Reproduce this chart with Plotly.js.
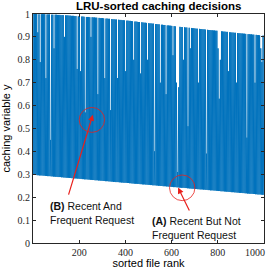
<!DOCTYPE html>
<html>
<head>
<meta charset="utf-8">
<script src="https://cdn.plot.ly/plotly-3.0.1.min.js"></script>
<style>
  html, body { margin: 0; padding: 0; background: #fff; }
  #chart { width: 269px; height: 269px; }
</style>
</head>
<body>
<div id="chart"></div>
<script>
// Caching variable y of sampled files (every 5th rank): upper samples
const hiY = [
  1.000,1.000,1.000,1.000,0.920,0.999,0.790,0.999,0.999,0.999,
  0.999,0.720,0.998,0.998,0.998,0.450,0.997,0.997,0.850,0.997,
  0.997,0.996,0.996,0.996,0.995,0.995,0.995,0.900,0.994,0.994,
  0.994,0.993,0.993,0.992,0.992,0.992,0.991,0.991,0.760,0.990,
  0.990,0.750,0.989,0.989,0.988,0.570,0.987,0.987,0.987,0.986,
  0.900,0.986,0.985,0.985,0.984,0.984,0.650,0.983,0.982,0.982,
  0.982,0.981,0.720,0.980,0.980,0.979,0.979,0.580,0.978,0.977,
  0.977,0.976,0.976,0.720,0.975,0.974,0.974,0.973,0.973,0.972,
  0.750,0.971,0.971,0.970,0.970,0.969,0.968,0.800,0.967,0.967,
  0.966,0.965,0.965,0.740,0.964,0.963,0.962,0.962,0.961,0.800,
  0.960,0.959,0.959,0.958,0.958,0.400,0.956,0.956,0.955,0.955,
  0.700,0.953,0.953,0.952,0.952,0.650,0.950,0.950,0.949,0.949,
  0.948,0.820,0.947,0.946,0.700,0.310,0.680,0.944,0.943,0.943,
  0.800,0.942,0.941,0.941,0.510,0.940,0.850,0.939,0.938,0.938,
  0.937,0.936,0.936,0.700,0.935,0.934,0.934,0.933,0.933,0.932,
  0.390,0.931,0.930,0.930,0.929,0.929,0.928,0.928,0.927,0.927,
  0.850,0.630,0.800,0.924,0.924,0.923,0.923,0.922,0.922,0.750,
  0.920,0.920,0.919,0.919,0.918,0.918,0.700,0.917,0.916,0.916,
  0.915,0.915,0.914,0.914,0.913,0.460,0.912,0.912,0.911,0.911,
  0.910,0.910,0.700,0.909,0.908,0.908,0.907,0.850,0.790,0.906
];
// lower samples (files in between)
const loY = [
  0.298,0.297,0.297,0.296,0.296,0.295,0.295,0.295,0.294,0.294,
  0.293,0.293,0.292,0.292,0.292,0.291,0.291,0.290,0.290,0.289,
  0.289,0.288,0.288,0.288,0.287,0.287,0.286,0.286,0.285,0.285,
  0.285,0.284,0.284,0.283,0.283,0.282,0.282,0.282,0.281,0.281,
  0.280,0.280,0.279,0.279,0.278,0.278,0.278,0.277,0.277,0.276,
  0.276,0.275,0.275,0.274,0.274,0.274,0.273,0.273,0.272,0.272,
  0.271,0.271,0.270,0.270,0.270,0.269,0.269,0.268,0.268,0.267,
  0.267,0.266,0.266,0.266,0.265,0.265,0.264,0.264,0.263,0.263,
  0.263,0.262,0.262,0.261,0.261,0.260,0.260,0.259,0.259,0.259,
  0.258,0.258,0.257,0.257,0.256,0.256,0.256,0.255,0.255,0.254,
  0.254,0.253,0.253,0.252,0.252,0.252,0.251,0.251,0.250,0.250,
  0.249,0.249,0.248,0.248,0.248,0.247,0.247,0.246,0.246,0.245,
  0.245,0.244,0.244,0.244,0.243,0.243,0.242,0.242,0.241,0.241,
  0.241,0.240,0.240,0.239,0.239,0.238,0.238,0.237,0.237,0.237,
  0.236,0.236,0.235,0.235,0.234,0.234,0.234,0.233,0.233,0.232,
  0.232,0.231,0.231,0.230,0.230,0.230,0.229,0.229,0.228,0.228,
  0.227,0.227,0.226,0.226,0.226,0.225,0.225,0.224,0.224,0.223,
  0.223,0.222,0.222,0.222,0.221,0.221,0.220,0.220,0.219,0.219,
  0.219,0.218,0.218,0.217,0.217,0.216,0.216,0.215,0.215,0.215,
  0.214,0.214,0.213,0.213,0.212,0.212,0.212,0.211,0.211,0.210
];
const rankStep = 5;           // sampled every 5th file rank
const xTickVals = [200, 400, 600, 800, 1000];
const xTickText = ['200', '400', '600', '800', '1000'];
const yTickVals = [0, 0.1, 0.2, 0.3, 0.4, 0.5, 0.6, 0.7, 0.8, 0.9, 1];

// annotation anchors (data units)
const noteB = {text: '<b>(B)</b> Recent And<br>Frequent Request', x: 65, y: 0.195,
  head: [259, 0.56], tail: [152, 0.205], circle: [200, 0.483, 310, 0.592]};
const noteA = {text: '<b>(A)</b> Recent But Not<br>Frequent Request', x: 508, y: 0.13,
  head: [628, 0.242], tail: [680, 0.135], circle: [591, 0.185, 701, 0.297]};

const xs = [], ys = [];
hiY.forEach((h, i) => {
  const r = 1 + rankStep * i;
  xs.push(r); ys.push(h);
  xs.push(r + rankStep / 2); ys.push(loY[i]);
});

const red = '#e8201c';
const axisColor = '#262626';
const serif = 'Liberation Serif, Times New Roman, serif';
const sans = 'Liberation Sans, Arial, sans-serif';

const data = [{
  type: 'scatter', mode: 'lines', x: xs, y: ys,
  line: {color: '#0072BD', width: 1}, hoverinfo: 'skip'
}];

function arrow(n) {
  return {xref: 'x', yref: 'y', axref: 'x', ayref: 'y', x: n.head[0], y: n.head[1],
    ax: n.tail[0], ay: n.tail[1], text: '', showarrow: true, arrowhead: 2,
    arrowsize: 1, arrowwidth: 1.2, arrowcolor: red, standoff: 0};
}
function label(n) {
  return {xref: 'x', yref: 'y', x: n.x, y: n.y, xanchor: 'left', yanchor: 'top',
    text: n.text, showarrow: false, align: 'left',
    font: {family: sans, size: 10.5, color: '#111'}};
}
function ring(n) {
  return {type: 'circle', xref: 'x', yref: 'y', x0: n.circle[0], y0: n.circle[1],
    x1: n.circle[2], y1: n.circle[3], line: {color: red, width: 0.8}};
}
// last x tick label, kept inside the picture like the reference
const lastTick = {xref: 'x', yref: 'paper', x: xTickVals[4], y: 0, xanchor: 'right', yanchor: 'top',
  xshift: 3, yshift: -2, text: xTickText[4], showarrow: false,
  font: {family: serif, size: 10, color: axisColor}};

const layout = {
  width: 269, height: 269,
  margin: {l: 33, r: 5, t: 14, b: 26},
  paper_bgcolor: '#fff', plot_bgcolor: '#fff',
  showlegend: false,
  title: {text: '<b>LRU-sorted caching decisions</b>', x: 0.59, xref: 'container', xanchor: 'center',
    y: 0.978, yref: 'container', yanchor: 'middle',
    font: {family: sans, size: 11.5, color: '#000'}},
  xaxis: {range: [0, 1000], tickvals: xTickVals, ticktext: xTickText.slice(0, 4).concat(['']),
    ticks: 'inside', ticklen: 3,
    tickcolor: axisColor, showline: true, linecolor: axisColor, linewidth: 1, mirror: 'ticks',
    showgrid: false, zeroline: false,
    tickfont: {family: serif, size: 10, color: axisColor},
    title: {text: 'sorted file rank', font: {family: sans, size: 11, color: '#000'}, standoff: 2}},
  yaxis: {range: [0, 1], tickvals: yTickVals, ticks: 'inside', ticklen: 3,
    tickcolor: axisColor, showline: true, linecolor: axisColor, linewidth: 1, mirror: 'ticks',
    showgrid: false, zeroline: false,
    tickfont: {family: serif, size: 10, color: axisColor},
    title: {text: 'caching variable y', font: {family: sans, size: 11, color: '#000'}, standoff: 4}},
  shapes: [ring(noteB), ring(noteA)],
  annotations: [arrow(noteB), arrow(noteA), label(noteB), label(noteA), lastTick]
};

Plotly.newPlot('chart', data, layout, {staticPlot: true, displayModeBar: false});
</script>
</body>
</html>
